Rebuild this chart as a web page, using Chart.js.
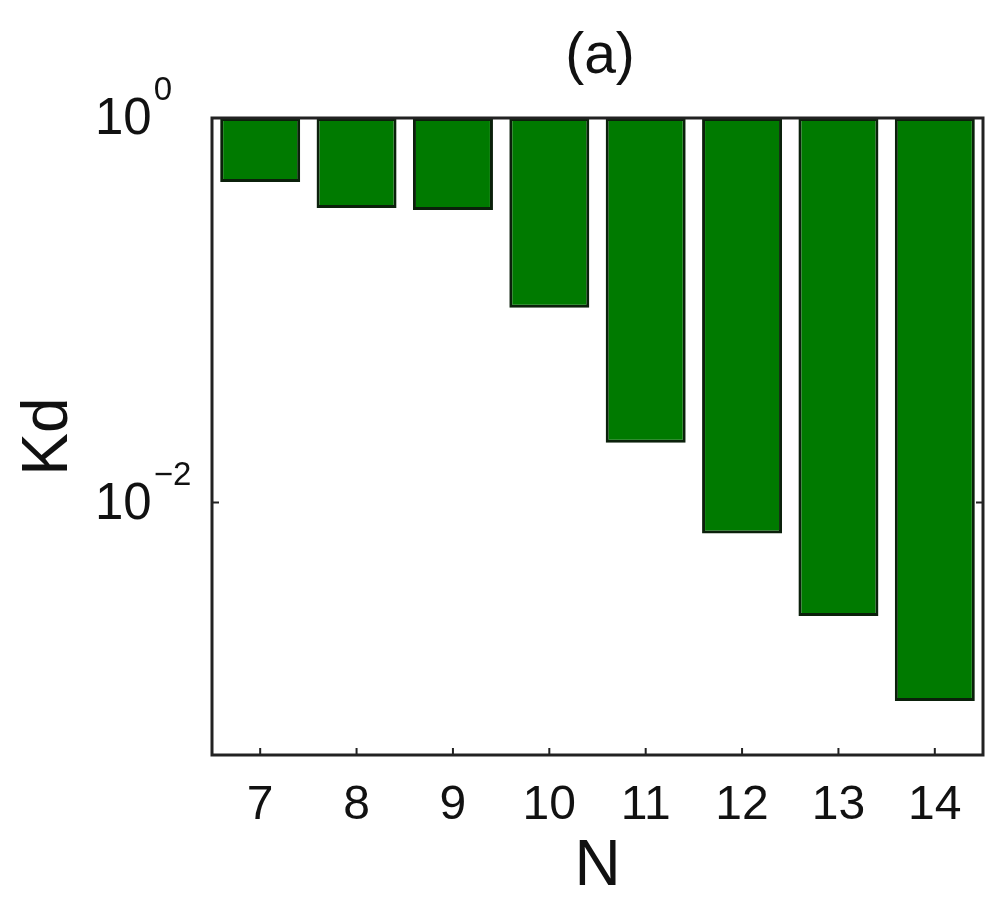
<!DOCTYPE html>
<html lang="en">
<head>
  <meta charset="UTF-8">
  <title>Kd vs N</title>
  <script src="https://cdn.jsdelivr.net/npm/chart.js"></script>
  <style>
    html, body { margin: 0; padding: 0; background: #fff; }
    #wrap { width: 986px; height: 899px; position: relative; }
  </style>
</head>
<body>
  <div id="wrap"><canvas id="kdChart"></canvas></div>

  <script>
    // values
    const nLabels = ['7', '8', '9', '10', '11', '12', '13', '14'];
    const kdValues = [0.465, 0.340, 0.332, 0.103, 0.0205, 0.0069, 0.00257, 0.00093];
    const yTickExponents = [0, -2];

    const FONT = '"Liberation Sans", Arial, Helvetica, sans-serif';
    const Y_MIN = Math.pow(10, -3.3125);
    const Y_MAX = 1;

    // box + inward ticks + title + y tick labels with superscripts
    const frame = {
      id: 'frame',
      afterDraw(chart) {
        const { ctx, chartArea: a, scales } = chart;
        const x = scales.x, y = scales.y;
        ctx.save();
        ctx.strokeStyle = '#222';
        ctx.lineWidth = 3;
        ctx.strokeRect(a.left, a.top, a.right - a.left, a.bottom - a.top);

        ctx.lineWidth = 2;
        ctx.beginPath();
        nLabels.forEach((_, i) => {
          const px = x.getPixelForTick(i);
          ctx.moveTo(px, a.bottom);
          ctx.lineTo(px, a.bottom - 7);
        });
        yTickExponents.forEach(e => {
          const py = y.getPixelForValue(Math.pow(10, e));
          ctx.moveTo(a.left, py); ctx.lineTo(a.left + 7, py);
          ctx.moveTo(a.right, py); ctx.lineTo(a.right - 7, py);
        });
        ctx.stroke();

        ctx.fillStyle = '#111';
        ctx.textBaseline = 'middle';
        ctx.textAlign = 'left';
        yTickExponents.forEach(e => {
          const py = y.getPixelForValue(Math.pow(10, e));
          ctx.font = '51px ' + FONT;
          ctx.fillText('10', 95, py + 2);
          const w = ctx.measureText('10').width;
          ctx.font = '33px ' + FONT;
          ctx.fillText(e < 0 ? '\u2212' + (-e) : String(e), 95 + w + 2, py - 27);
        });

        ctx.textAlign = 'center';
        ctx.font = '57px ' + FONT;
        ctx.fillText('(a)', 600, 57);
        ctx.restore();
      }
    };

    new Chart(document.getElementById('kdChart'), {
      type: 'bar',
      data: {
        labels: nLabels,
        datasets: [{
          label: 'Kd',
          data: kdValues.map(v => [v, 1]),
          backgroundColor: '#007a00',
          borderColor: '#0b200b',
          borderWidth: 3,
          borderSkipped: false,
          barPercentage: 0.83,
          categoryPercentage: 1
        }]
      },
      options: {
        responsive: true,
        maintainAspectRatio: false,
        animation: false,
        layout: { padding: { left: 17, right: 3, top: 118, bottom: 0 } },
        plugins: { legend: { display: false }, tooltip: { enabled: false } },
        scales: {
          x: {
            grid: { display: false, drawTicks: false },
            border: { display: false },
            ticks: {
              color: '#111',
              padding: 22,
              font: { family: FONT, size: 48 }
            },
            title: {
              display: true,
              text: 'N',
              color: '#111',
              font: { family: FONT, size: 64, lineHeight: 1 },
              padding: { top: 0, bottom: 0 }
            },
            afterFit(scale) { scale.height = 144; }
          },
          y: {
            type: 'logarithmic',
            min: Y_MIN,
            max: Y_MAX,
            grid: { display: false, drawTicks: false },
            border: { display: false },
            ticks: { display: false },
            title: {
              display: true,
              text: 'Kd',
              color: '#111',
              font: { family: FONT, size: 64, lineHeight: 1 },
              padding: 0
            },
            afterFit(scale) { scale.width = 195; }
          }
        }
      },
      plugins: [frame]
    });
  </script>
</body>
</html>
